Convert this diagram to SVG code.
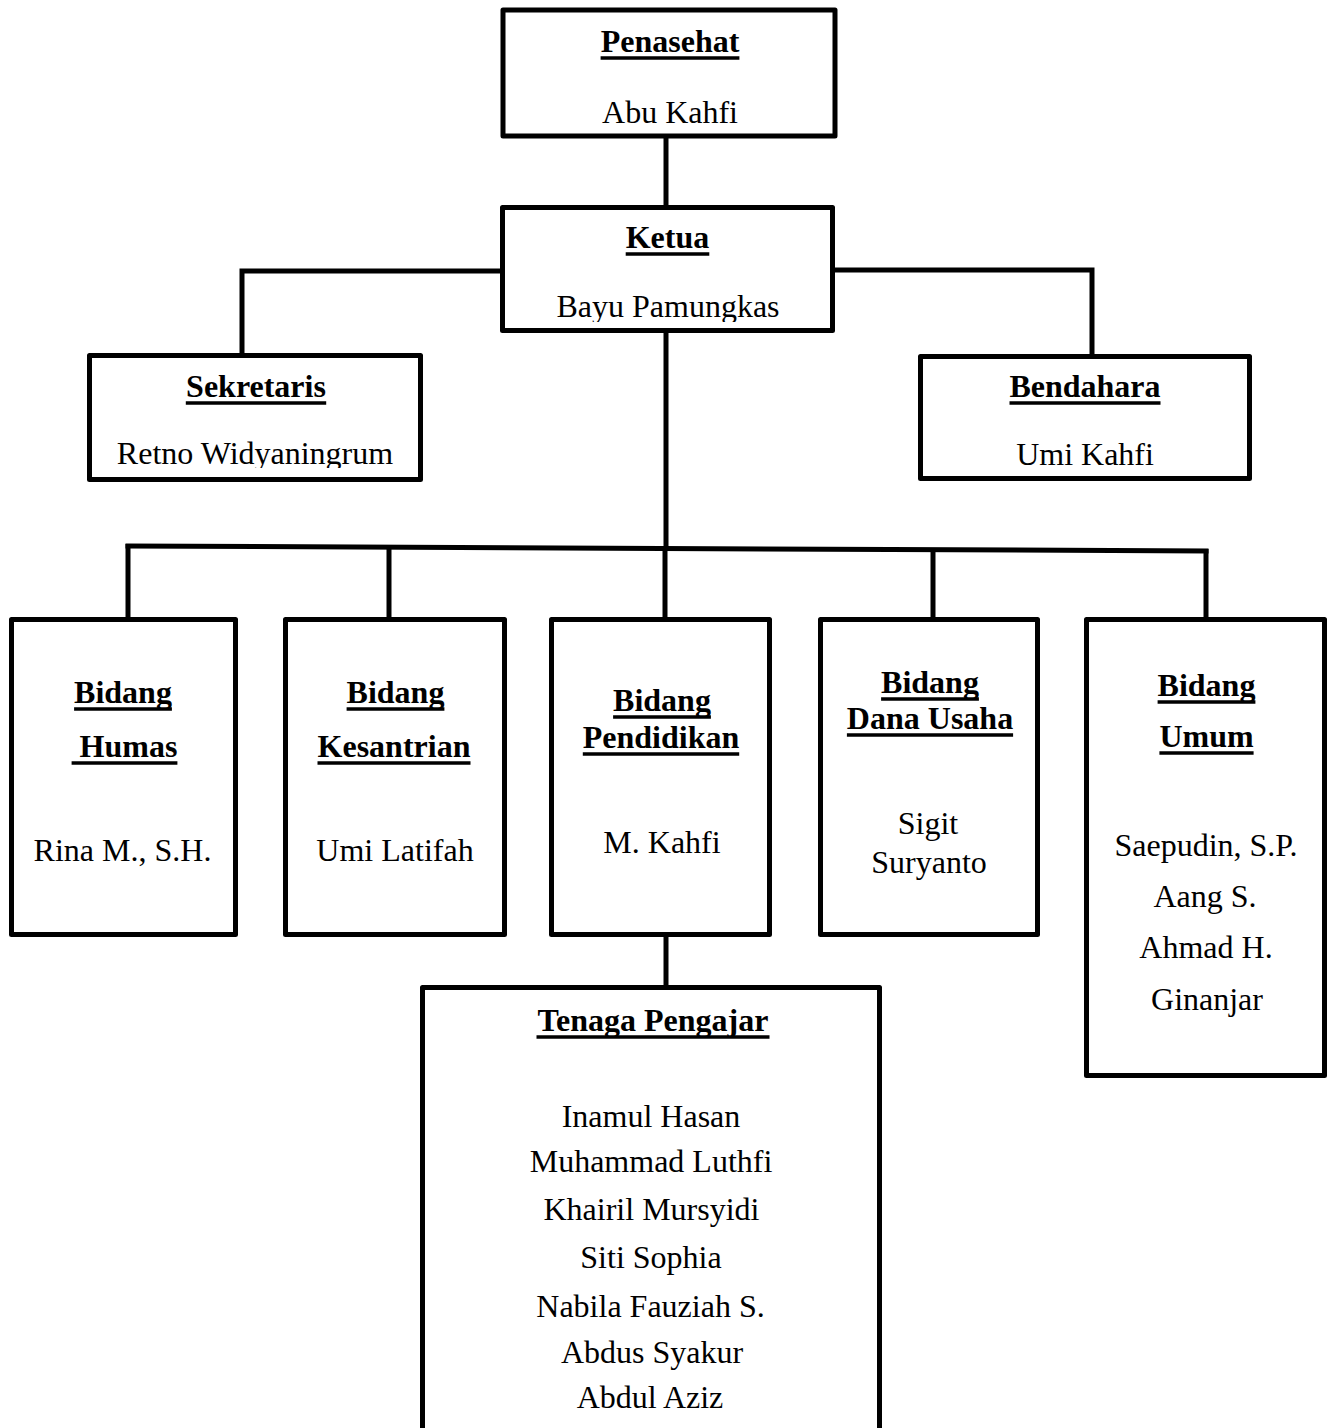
<svg xmlns="http://www.w3.org/2000/svg" width="1330" height="1428" viewBox="0 0 1330 1428">
<style>
.box{fill:#fff;stroke:#000;stroke-width:5;stroke-linejoin:round}
.con{fill:none;stroke:#000;stroke-width:5}
.h{font-family:"Liberation Serif","Times New Roman",serif;font-weight:bold;font-size:32px;fill:#000;text-anchor:middle}
.t{font-family:"Liberation Serif","Times New Roman",serif;font-size:32px;fill:#000;text-anchor:middle}
.ul{stroke:#000;stroke-width:3.5}
</style>
<defs>
<clipPath id="clipKetua"><rect x="500" y="205" width="335" height="117"/></clipPath>
<clipPath id="clipSek"><rect x="87" y="353" width="336" height="115"/></clipPath>
</defs>
<rect width="1330" height="1428" fill="#fff"/>
<g id="connectors">
<line class="con" x1="666" y1="136" x2="666" y2="208"/>
<polyline class="con" points="502,271 242,271 242,356"/>
<polyline class="con" points="833,270 1092,270 1092,356"/>
<line class="con" x1="666" y1="331" x2="666" y2="549"/>
<line class="con" x1="125.5" y1="546" x2="1208.5" y2="551"/>
<line class="con" x1="128" y1="544" x2="128" y2="620"/>
<line class="con" x1="389" y1="547" x2="389" y2="620"/>
<line class="con" x1="665" y1="548" x2="665" y2="620"/>
<line class="con" x1="933" y1="550" x2="933" y2="623"/>
<line class="con" x1="1206" y1="549" x2="1206" y2="624"/>
<line class="con" x1="666" y1="935" x2="666" y2="988"/>
</g>
<g id="penasehat">
<rect class="box" x="503" y="10" width="332" height="126"/>
<text class="h" x="670" y="52">Penasehat</text>
<line class="ul" x1="600.6" y1="58" x2="739.4" y2="58"/>
<text class="t" x="670" y="123">Abu Kahfi</text>
</g>
<g id="ketua">
<rect class="box" x="502.5" y="207.5" width="330" height="123"/>
<text class="h" x="667.5" y="248">Ketua</text>
<line class="ul" x1="625.7" y1="254" x2="709.3" y2="254"/>
<text class="t" x="668" y="317" clip-path="url(#clipKetua)">Bayu Pamungkas</text>
</g>
<g id="sekretaris">
<rect class="box" x="89.5" y="355.5" width="331" height="124"/>
<text class="h" x="256" y="397">Sekretaris</text>
<line class="ul" x1="185.8" y1="403" x2="326.2" y2="403"/>
<text class="t" x="255" y="464" clip-path="url(#clipSek)">Retno Widyaningrum</text>
</g>
<g id="bendahara">
<rect class="box" x="920.5" y="356.5" width="329" height="122"/>
<text class="h" x="1085" y="397">Bendahara</text>
<line class="ul" x1="1009.5" y1="403" x2="1160.5" y2="403"/>
<text class="t" x="1085" y="465">Umi Kahfi</text>
</g>
<g id="bidang-humas">
<rect class="box" x="11.5" y="619.5" width="224" height="315"/>
<text class="h" x="123" y="703">Bidang</text>
<line class="ul" x1="74.1" y1="709" x2="171.9" y2="709"/>
<text class="h" x="124.5" y="757" style="white-space:pre"> Humas</text>
<line class="ul" x1="71.6" y1="763" x2="177.4" y2="763"/>
<text class="t" x="122.5" y="861">Rina M., S.H.</text>
</g>
<g id="bidang-kesantrian">
<rect class="box" x="285.5" y="619.5" width="219" height="315"/>
<text class="h" x="395.5" y="703">Bidang</text>
<line class="ul" x1="346.6" y1="709" x2="444.4" y2="709"/>
<text class="h" x="394" y="757">Kesantrian</text>
<line class="ul" x1="317.5" y1="763" x2="470.5" y2="763"/>
<text class="t" x="395" y="861">Umi Latifah</text>
</g>
<g id="bidang-pendidikan">
<rect class="box" x="551.5" y="619.5" width="218" height="315"/>
<text class="h" x="662" y="711">Bidang</text>
<line class="ul" x1="613.1" y1="717" x2="710.9" y2="717"/>
<text class="h" x="661" y="748">Pendidikan</text>
<line class="ul" x1="582.8" y1="754" x2="739.2" y2="754"/>
<text class="t" x="662" y="853">M. Kahfi</text>
</g>
<g id="bidang-dana-usaha">
<rect class="box" x="820.5" y="619.5" width="217" height="315"/>
<text class="h" x="930" y="693">Bidang</text>
<line class="ul" x1="881.1" y1="699" x2="978.9" y2="699"/>
<text class="h" x="930" y="729">Dana Usaha</text>
<line class="ul" x1="846.9" y1="735" x2="1013.1" y2="735"/>
<text class="t" x="928" y="834">Sigit</text>
<text class="t" x="929" y="873">Suryanto</text>
</g>
<g id="bidang-umum">
<rect class="box" x="1086.5" y="619.5" width="238" height="456"/>
<text class="h" x="1206.5" y="696">Bidang</text>
<line class="ul" x1="1157.6" y1="702" x2="1255.4" y2="702"/>
<text class="h" x="1206.5" y="747">Umum</text>
<line class="ul" x1="1159.4" y1="753" x2="1253.6" y2="753"/>
<text class="t" x="1206" y="856">Saepudin, S.P.</text>
<text class="t" x="1205" y="907">Aang S.</text>
<text class="t" x="1206" y="958">Ahmad H.</text>
<text class="t" x="1207" y="1010">Ginanjar</text>
</g>
<g id="tenaga-pengajar">
<rect class="box" x="422.5" y="987.5" width="457" height="500"/>
<text class="h" x="653" y="1031">Tenaga Pengajar</text>
<line class="ul" x1="536.5" y1="1037" x2="769.5" y2="1037"/>
<text class="t" x="651" y="1127">Inamul Hasan</text>
<text class="t" x="651" y="1172">Muhammad Luthfi</text>
<text class="t" x="651.5" y="1220">Khairil Mursyidi</text>
<text class="t" x="651" y="1268">Siti Sophia</text>
<text class="t" x="650.5" y="1317">Nabila Fauziah S.</text>
<text class="t" x="652" y="1363">Abdus Syakur</text>
<text class="t" x="650" y="1408">Abdul Aziz</text>
</g>
</svg>
